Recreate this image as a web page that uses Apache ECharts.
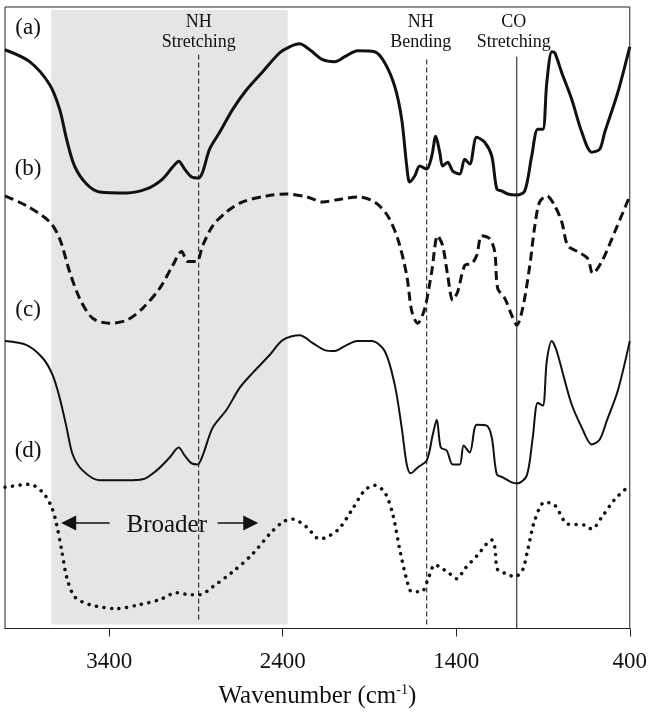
<!DOCTYPE html>
<html><head><meta charset="utf-8">
<script src="https://cdn.jsdelivr.net/npm/echarts@6/dist/echarts.min.js"></script>
<style>html,body{margin:0;padding:0;background:#fff}#c{width:650px;height:714px}</style>
</head><body><div id="c"></div>
<script>
// x tick labels
const xTicks = [400, 1400, 2400, 3400];
// trace (a) thick solid
const aWave = [4000,3858,3743,3685,3645,3599,3530,3455,3299,3184,3092,3034,2999,2965,2924,2884,2861,2821,2763,2688,2607,2515,2417,2360,2302,2244,2169,2100,2042,1968,1870,1812,1754,1714,1685,1668,1639,1610,1570,1541,1518,1495,1478,1449,1420,1380,1351,1322,1282,1236,1195,1166,1138,1103,1051,1005,965,930,901,878,849,832,792,734,676,619,573,544,469,400];
const aVal = [582,570,547,522,492,465,447,439,438,442,452,464,470,462,454,453,459,482,499,522,542,560,579,585,588,582,572,570,575,581,580,569,545,512,465,449,455,465,462,475,495,479,465,469,460,457,472,467,494,489,475,442,440,437,436,440,475,502,502,549,580,579,559,532,499,479,482,499,539,585];
// trace (b) dashed
const bWave = [4000,3875,3743,3685,3628,3570,3495,3397,3299,3207,3109,3034,2982,2947,2896,2861,2803,2723,2630,2492,2377,2262,2169,2060,1968,1870,1795,1737,1685,1656,1622,1581,1541,1507,1478,1449,1420,1391,1351,1311,1282,1253,1207,1178,1161,1120,1080,1051,1017,976,947,919,878,832,792,757,700,642,613,561,486,400];
const bVal = [435,425,409,392,359,332,312,307,310,322,342,365,379,369,369,385,405,419,429,435,437,434,429,432,434,429,415,392,355,319,307,322,359,395,385,355,330,339,365,367,375,395,392,379,342,332,315,305,322,365,405,429,435,425,409,385,379,372,357,369,399,435];
// trace (c) thin solid
const cWave = [4000,3875,3783,3726,3685,3645,3610,3553,3455,3299,3207,3126,3051,2999,2965,2924,2890,2861,2803,2723,2648,2573,2475,2400,2302,2227,2158,2100,2042,1968,1887,1812,1754,1714,1685,1662,1622,1570,1535,1512,1489,1455,1420,1380,1357,1322,1282,1224,1195,1166,1132,1080,1045,993,959,930,901,878,849,821,774,734,676,619,573,532,469,400];
const cVal = [289,285,272,255,232,202,175,159,149,149,150,159,172,182,174,166,165,174,202,220,242,257,275,290,295,287,280,279,284,289,289,279,245,202,165,156,162,169,195,210,182,179,165,165,184,177,205,204,192,155,152,147,146,154,192,227,224,269,289,279,249,225,202,185,190,209,239,289];
// trace (d) dotted
const dWave = [4000,3858,3783,3731,3703,3674,3645,3599,3512,3357,3224,3109,3011,2936,2878,2803,2688,2573,2475,2400,2342,2262,2187,2083,2002,1927,1870,1812,1766,1725,1685,1656,1599,1564,1524,1495,1437,1397,1351,1276,1195,1178,1161,1109,1063,1017,988,947,890,832,757,659,619,561,486,400];
const dVal = [142,145,137,122,105,79,52,32,24,20,24,29,36,34,34,42,57,75,95,107,110,102,90,99,119,139,144,137,115,79,49,37,37,49,64,62,55,50,60,74,89,82,59,55,52,59,79,109,127,124,105,104,100,112,130,144];
// shaded region (wavenumbers)
const bandRange = [3733, 2371];
// marker lines
const markerWave = [2884, 1570, 1051];
const markerBottom = [9, 4, 0];
const markerTop = [577, 574, 575];
const markerDashed = [true, true, false];
// annotation texts
const annoText = ['NH', 'Stretching', 'NH', 'Bending', 'CO', 'Stretching'];
const annoWave = [2884, 2884, 1604, 1604, 1068, 1068];
const annoVal = [610, 590, 610, 590, 610, 590];
const traceLabels = ['(a)', '(b)', '(c)', '(d)'];
const traceLabelWave = [3867, 3867, 3867, 3867];
const traceLabelVal = [604, 462, 320, 179];
const broaderText = 'Broader';
const broaderPos = [3068, 104];
const arrowLeft = [[3397, 106], [3633, 106]];
const arrowRight = [[2775, 106], [2584, 106]];

const zip = (w, v) => w.map((x, i) => [x, v[i]]);
const FONT = '"Liberation Serif", "Times New Roman", serif';
const INK = '#111';
const TXT = '#111';

const chart = echarts.init(document.getElementById('c'), null, {renderer: 'canvas'});
const series = [];
series.push({
  type: 'line', data: [], z: 1, silent: true,
  markArea: {silent: true, itemStyle: {color: '#e5e5e5'},
    data: [[{coord: [bandRange[0], 4]}, {coord: [bandRange[1], 622]}]]}
});
series.push({
  type: 'line', data: [], z: 5, silent: true,
  markLine: {silent: true, symbol: ['none', 'triangle'], symbolSize: 15,
    label: {show: false}, itemStyle: {color: INK, opacity: 1},
    lineStyle: {color: INK, width: 1.5, type: 'solid', opacity: 1},
    data: [[{coord: arrowLeft[0]}, {coord: arrowLeft[1]}], [{coord: arrowRight[0]}, {coord: arrowRight[1]}]]}
});
markerWave.forEach((w, i) => {
  series.push({type: 'line', z: 3, silent: true, symbol: 'none',
    data: [[w, markerBottom[i]], [w, markerTop[i]]],
    lineStyle: {color: INK, width: 1, type: markerDashed[i] ? [5, 3] : 'solid'}});
});
const smooth = 0.3;
series.push({type: 'line', z: 4, symbol: 'none', smooth, data: zip(aWave, aVal), lineStyle: {color: INK, width: 3}});
series.push({type: 'line', z: 4, symbol: 'none', smooth, data: zip(bWave, bVal), lineStyle: {color: INK, width: 3, type: [9, 5]}});
series.push({type: 'line', z: 4, symbol: 'none', smooth, data: zip(cWave, cVal), lineStyle: {color: INK, width: 2}});
series.push({type: 'line', z: 4, symbol: 'none', smooth, data: zip(dWave, dVal), lineStyle: {color: INK, width: 3.5, type: [0.1, 7.5], cap: 'round'}});
// text annotations
const textSeries = (items, size) => ({type: 'scatter', z: 6, silent: true, symbolSize: 0,
  itemStyle: {opacity: 1},
  data: items,
  label: {show: true, position: 'inside', opacity: 1, formatter: p => p.name, color: TXT, fontFamily: FONT, fontSize: size}});
series.push(textSeries(annoText.map((t, i) => ({value: [annoWave[i], annoVal[i]], name: t})), 18));
series.push(textSeries(traceLabels.map((t, i) => ({value: [traceLabelWave[i], traceLabelVal[i]], name: t})), 23));
series.push(textSeries([{value: broaderPos, name: broaderText}], 25));

chart.setOption({
  animation: false,
  backgroundColor: '#fff',
  grid: {left: 5, right: 20, top: 7, bottom: 82, show: true, borderColor: '#222', borderWidth: 1, backgroundColor: 'transparent'},
  xAxis: {
    type: 'value', min: 400, max: 4000, inverse: true,
    name: 'Wavenumber (cm{sup|-1})', nameLocation: 'middle', nameGap: 55,
    nameTextStyle: {color: TXT, fontFamily: FONT, fontSize: 25,
      rich: {sup: {fontFamily: FONT, fontSize: 14, color: TXT, verticalAlign: 'top', padding: [0, 0, 12, 0]}}},
    axisLine: {show: true, lineStyle: {color: '#222', width: 1}},
    axisTick: {show: true, length: 8, inside: false, lineStyle: {color: '#222'}, customValues: xTicks},
    axisLabel: {show: true, margin: 22, color: TXT, fontFamily: FONT, fontSize: 23, customValues: xTicks,
      formatter: v => String(v)},
    splitLine: {show: false}
  },
  yAxis: {type: 'value', min: 0, max: 625, show: false, splitLine: {show: false}},
  series
});
</script>
</body></html>
